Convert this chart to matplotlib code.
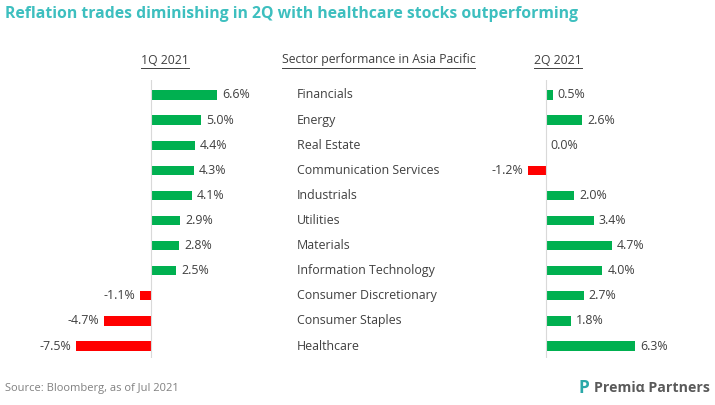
import matplotlib
matplotlib.use("Agg")
import matplotlib.pyplot as plt
from matplotlib.lines import Line2D

sectors = ["Financials", "Energy", "Real Estate", "Communication Services", "Industrials",
           "Utilities", "Materials", "Information Technology", "Consumer Discretionary",
           "Consumer Staples", "Healthcare"]
q1_values = [6.6, 5.0, 4.4, 4.3, 4.1, 2.9, 2.8, 2.5, -1.1, -4.7, -7.5]
q2_values = [0.5, 2.6, 0.0, -1.2, 2.0, 3.4, 4.7, 4.0, 2.7, 1.8, 6.3]

title = "Reflation trades diminishing in 2Q with healthcare stocks outperforming"
header_left = "1Q 2021"
header_mid = "Sector performance in Asia Pacific"
header_right = "2Q 2021"
source = "Source: Bloomberg, as of Jul 2021"

W, H = 715, 405
fig = plt.figure(figsize=(W / 100, H / 100), dpi=100)
fig.patch.set_facecolor("white")

GREEN = "#00b050"
RED = "#ff0000"
TXT = "#404040"
FONT = "Open Sans"

def px_ax(x0, x1, y0, y1):
    return fig.add_axes([x0 / W, 1 - y1 / H, (x1 - x0) / W, (y1 - y0) / H])

row0, step = 95.0, 25.1
ytop, ybot = 80, 358
ylim = ((ybot - row0) / step, (ytop - row0) / step)

def draw_panel(ax, vals, zero_px, scale, x0, x1):
    ax.set_xlim((x0 - zero_px) / scale, (x1 - zero_px) / scale)
    ax.set_ylim(*ylim)
    ax.axis("off")
    ys = list(range(len(vals)))
    cols = [GREEN if v >= 0 else RED for v in vals]
    ax.barh(ys, vals, height=0.37, color=cols)
    ax.axvline(0, color="#d9d9d9", lw=0.8)
    off = 5 / scale
    for y, v in zip(ys, vals):
        if v >= 0:
            ax.text(v + off, y, f"{v:.1f}%", va="center", ha="left",
                    fontsize=8.9, color=TXT, family=FONT)
        else:
            ax.text(v - off, y, f"{v:.1f}%", va="center", ha="right",
                    fontsize=8.9, color=TXT, family=FONT)

axL = px_ax(20, 290, ytop, ybot)
draw_panel(axL, q1_values, 151, 10.0, 20, 290)
axR = px_ax(480, 705, ytop, ybot)
draw_panel(axR, q2_values, 545.5, 14.2, 480, 705)

for i, s in enumerate(sectors):
    fig.text(297 / W, 1 - (row0 + step * i) / H, s, ha="left", va="center",
             fontsize=8.9, color=TXT, family=FONT)

fig.text(5 / W, 1 - 14 / H, title, ha="left", va="center", fontsize=11.3,
         fontweight="bold", color="#3dbfbf", family=FONT)

headers = []
for x, s in [(165, header_left), (378.5, header_mid), (558, header_right)]:
    headers.append(fig.text(x / W, 1 - 60 / H, s, ha="center", va="center",
                            fontsize=8.8, color=TXT, family=FONT))

fig.canvas.draw()
r = fig.canvas.get_renderer()
for t in headers:
    bb = t.get_window_extent(r)
    yline = (bb.y0 - 1.0) / H
    fig.add_artist(Line2D([bb.x0 / W, bb.x1 / W], [yline, yline], color=TXT, lw=0.7))

fig.text(5 / W, 1 - 388 / H, source, ha="left", va="center", fontsize=8.0,
         color="#808080", family=FONT)
fig.text(578 / W, 1 - 388 / H, "P", ha="left", va="center", fontsize=12.5,
         fontweight="bold", color="#2aa8a8", family=FONT)
fig.text(594 / W, 1 - 388 / H, "Premiα Partners", ha="left", va="center", fontsize=10.2,
         fontweight="bold", color="#5a5a5a", family=FONT)

fig.savefig("out.png", dpi=100, facecolor="white")
